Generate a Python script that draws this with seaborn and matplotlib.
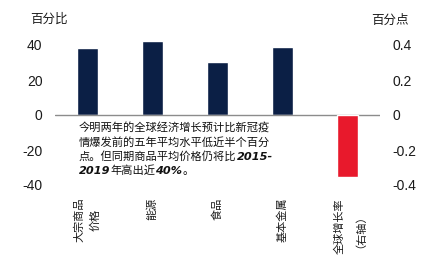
import numpy as np
import pandas as pd
import matplotlib
matplotlib.use("Agg")
import matplotlib.pyplot as plt
import seaborn as sns

categories = ["大宗商品\n价格", "能源", "食品", "基本金属", "全球增长率\n（右轴）"]
left_cats = ["大宗商品\n价格", "能源", "食品", "基本金属"]
left_values = [38.5, 42.3, 30.4, 38.6]
right_cats = ["全球增长率\n（右轴）"]
right_values = [-0.354]
left_ticks = [-40, -20, 0, 20, 40]
right_ticks = [-0.4, -0.2, 0, 0.2, 0.4]
right_tick_labels = ["-0.4", "-0.2", "0", "0.2", "0.4"]
left_unit = "百分比"
right_unit = "百分点"
note_lines = [
    [("今明两年的全球经济增长预计比新冠疫", "cjk")],
    [("情爆发前的五年平均水平低近半个百分", "cjk")],
    [("点。但同期商品平均价格仍将比", "cjk"), ("2015-", "num")],
    [("2019", "num"), ("年高出近", "cjk"), ("40%", "num"), ("。", "cjk")],
]

navy = "#0B1F45"
red = "#E8192C"
txt = "#1a1a1a"

sns.set_style("white")
plt.rcParams["font.family"] = ["Liberation Sans", "Noto Sans CJK SC", "DejaVu Sans"]

W, H = 428, 256
fig = plt.figure(figsize=(W / 100, H / 100), dpi=100)
ax = fig.add_axes([55 / W, 1 - 193.75 / H, 325 / W, 157.5 / H])

df_left = pd.DataFrame({"cat": left_cats, "val": left_values})
df_right = pd.DataFrame({"cat": right_cats, "val": right_values})

sns.barplot(data=df_left, x="cat", y="val", order=categories, ax=ax,
            width=0.31, color=navy, saturation=1)
ax2 = ax.twinx()
sns.barplot(data=df_right, x="cat", y="val", order=categories, ax=ax2,
            width=0.31, color=red, saturation=1)

for a in (ax, ax2):
    for s in a.spines.values():
        s.set_visible(False)
    a.set_xlabel("")
    a.set_ylabel("")
    a.set_xlim(-0.5, 4.5)

ax.set_ylim(-45, 45)
ax2.set_ylim(-0.45, 0.45)
ax.axhline(0, color="#8c8c8c", lw=1.0, zorder=3)

ax.set_yticks(left_ticks)
ax.set_yticklabels([str(t) for t in left_ticks])
ax2.set_yticks(right_ticks)
ax2.set_yticklabels(right_tick_labels)
ax.tick_params(axis="y", length=0, pad=9, labelsize=10, labelcolor=txt)
ax2.tick_params(axis="y", length=0, pad=9, labelsize=10, labelcolor=txt)

ax.set_xticks(range(len(categories)))
ax.set_xticklabels(categories, rotation=90, fontsize=8, color=txt,
                   va="top", ha="center", multialignment="center",
                   linespacing=1.65)
ax.tick_params(axis="x", length=0, pad=3)

fig.text(30 / W, 1 - 20 / H, left_unit, fontsize=9, color=txt, ha="left", va="center")
fig.text(371 / W, 1 - 21 / H, right_unit, fontsize=9, color=txt, ha="left", va="center")

line_y = [127, 142, 156.5, 171]
for parts, yy in zip(note_lines, line_y):
    prev = None
    for s, kind in parts:
        kw = dict(fontsize=8.1, color="#111111")
        if kind == "num":
            kw.update(family=["DejaVu Sans"], style="italic", weight="bold")
        if prev is None:
            prev = fig.text(79 / W, 1 - yy / H, s, ha="left", va="center", **kw)
        else:
            prev = ax.annotate(s, xy=(1, 0.5), xycoords=prev, ha="left",
                               va="center", annotation_clip=False, **kw)

fig.savefig("out.png", dpi=100)
